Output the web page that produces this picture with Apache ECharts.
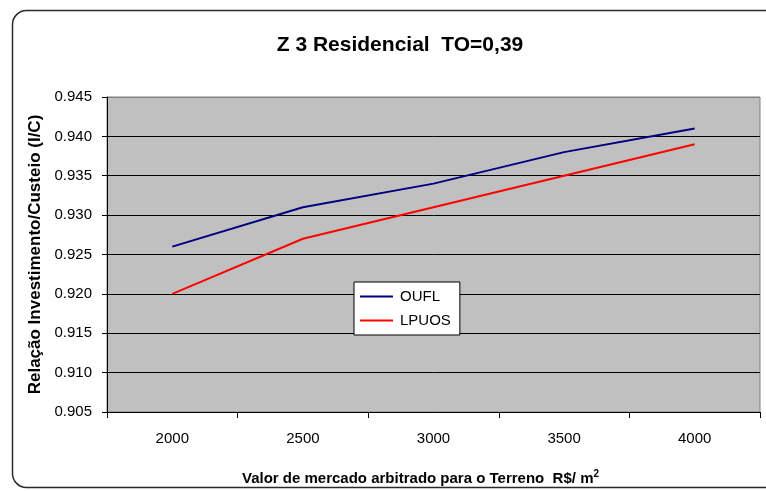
<!DOCTYPE html>
<html>
<head>
<meta charset="utf-8">
<script src="https://cdn.jsdelivr.net/npm/echarts@6/dist/echarts.min.js"></script>
<style>
  html, body { margin: 0; padding: 0; background: #fff; }
  #chart { width: 766px; height: 491px; }
</style>
</head>
<body>
<div id="chart"></div>
<script>
// Terrain market value (R$/m²)
const categories = ['2000', '2500', '3000', '3500', '4000'];
// Investment / running-cost ratio per scenario
const oufl = [0.926, 0.931, 0.934, 0.938, 0.941];
const lpuos = [0.920, 0.927, 0.931, 0.935, 0.939];

const chart = echarts.init(document.getElementById('chart'), null, { renderer: 'canvas' });
const FONT = 'Liberation Sans, Arial, sans-serif';

chart.setOption({
  animation: false,
  backgroundColor: '#ffffff',
  textStyle: { fontFamily: FONT },
  title: {
    text: 'Z 3 Residencial  TO=0,39',
    left: 395, top: 30, textAlign: 'center',
    textStyle: { fontFamily: FONT, fontSize: 21, fontWeight: 'bold', color: '#000' }
  },
  graphic: [{
    type: 'rect',
    shape: { x: 12.5, y: 10.5, width: 770, height: 477, r: 14 },
    style: { fill: 'none', stroke: '#2a2a2a', lineWidth: 1.5 },
    silent: true, z: -1
  }],
  grid: {
    left: 107, right: 6, top: 97, bottom: 78,
    show: true, backgroundColor: '#c0c0c0', borderColor: '#808080', borderWidth: 1
  },
  legend: {
    orient: 'vertical',
    left: 354, top: 282,
    backgroundColor: '#ffffff', borderColor: '#000', borderWidth: 1,
    padding: [7, 9, 7, 6],
    itemGap: 9, itemWidth: 33, itemHeight: 2,
    icon: 'rect',
    textStyle: { fontFamily: FONT, fontSize: 15, color: '#000', padding: [0, 0, 0, 2] },
    data: ['OUFL', 'LPUOS']
  },
  xAxis: {
    type: 'category',
    data: categories,
    boundaryGap: true,
    name: 'Valor de mercado arbitrado para o Terreno  R$/ m{sup|2}',
    nameLocation: 'middle', nameGap: 57,
    nameTextStyle: {
      fontFamily: FONT, fontSize: 15, fontWeight: 'bold', color: '#000',
      padding: [0, 26, 0, 0],
      rich: { sup: { fontFamily: FONT, fontSize: 10, fontWeight: 'bold', verticalAlign: 'top', padding: [0, 0, 9, 0], color: '#000' } }
    },
    axisLine: { lineStyle: { color: '#000', width: 1 } },
    axisTick: { show: true, length: 6, inside: false, alignWithLabel: false, lineStyle: { color: '#000' } },
    axisLabel: { fontFamily: FONT, fontSize: 15, color: '#000', margin: 19 },
    splitLine: { show: false }
  },
  yAxis: {
    type: 'value',
    min: 0.905, max: 0.945, interval: 0.005,
    name: 'Relação Investimento/Custeio (I/C)',
    nameLocation: 'middle', nameGap: 58,
    nameTextStyle: { fontFamily: FONT, fontSize: 17, fontWeight: 'bold', color: '#000' },
    axisLine: { show: true, lineStyle: { color: '#000', width: 1 } },
    axisTick: { show: true, length: 5, lineStyle: { color: '#000' } },
    axisLabel: {
      fontFamily: FONT, fontSize: 15, color: '#000', margin: 15,
      formatter: v => v.toFixed(3)
    },
    splitLine: {
      show: true,
      lineStyle: { color: ['#000', '#000', '#000', '#000', '#000', '#000', '#000', '#000', '#808080'], width: 1 }
    }
  },
  series: [
    {
      name: 'OUFL', type: 'line', data: oufl,
      showSymbol: false, symbol: 'none',
      lineStyle: { color: '#000080', width: 2 }, itemStyle: { color: '#000080' }
    },
    {
      name: 'LPUOS', type: 'line', data: lpuos,
      showSymbol: false, symbol: 'none',
      lineStyle: { color: '#ff0000', width: 2 }, itemStyle: { color: '#ff0000' }
    }
  ]
});
</script>
</body>
</html>
